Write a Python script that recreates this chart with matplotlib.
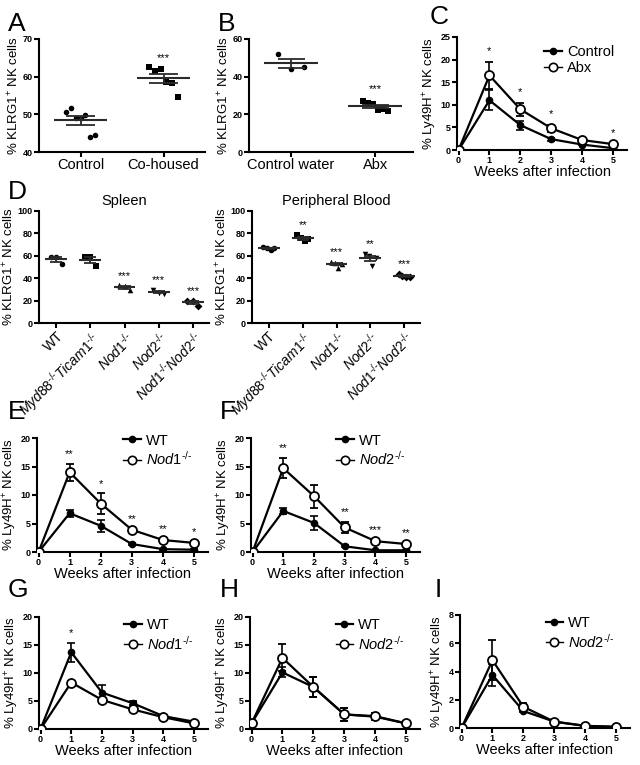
import numpy as np
import matplotlib
matplotlib.use('Agg')
import matplotlib.pyplot as plt
from matplotlib.lines import Line2D

plt.rcParams['font.family'] = ['Liberation Sans', 'DejaVu Sans']
plt.rcParams['mathtext.fontset'] = 'custom'
plt.rcParams['mathtext.rm'] = 'Liberation Sans'
plt.rcParams['mathtext.it'] = 'Liberation Sans:italic'
plt.rcParams['mathtext.bf'] = 'Liberation Sans:bold'

# ---- data ----
# A: co-housing
a_labels = ['Control', 'Co-housed']
a_control = [50.5, 51.7, 49.0, 49.1, 49.8, 44.0, 44.6]
a_cohoused = [62.5, 61.5, 62.0, 58.5, 58.3, 54.5]
a_stars = ['', '***']

# B: antibiotics
b_labels = ['Control water', 'Abx']
b_control = [52.0, 44.0, 45.0]
b_abx = [27.0, 26.0, 25.5, 22.5, 23.0, 22.0]
b_stars = ['', '***']

# D: KLRG1 by genotype
KO = r'^{\text{-/-}}'
d_labels = ['WT', r'$\mathit{Myd88}' + KO + r'\mathit{Ticam1}' + KO + '$',
            r'$\mathit{Nod1}' + KO + '$', r'$\mathit{Nod2}' + KO + '$',
            r'$\mathit{Nod1}' + KO + r'\mathit{Nod2}' + KO + '$']
d_spleen = [[59.0, 59.0, 52.5], [59.0, 59.0, 51.0], [33.5, 33.0, 29.5],
            [29.5, 27.0, 26.0], [20.0, 20.0, 15.5]]
d_spleen_stars = ['', '', '***', '***', '***']
d_blood = [[68.0, 67.0, 65.0, 67.0], [79.0, 76.0, 73.0, 75.0], [54.5, 54.0, 49.0, 53.0],
           [62.0, 60.0, 51.0, 58.0], [44.0, 42.0, 41.0, 41.0]]
d_blood_stars = ['', '**', '***', '**', '***']

weeks = [0, 1, 2, 3, 4, 5]

# C: control vs Abx
c_ctrl = [0.0, 11.0, 5.5, 2.4, 1.2, 0.4]
c_ctrl_sem = [0.0, 2.2, 1.0, 0.3, 0.2, 0.1]
c_abx = [0.0, 16.5, 9.0, 4.8, 2.2, 1.3]
c_abx_sem = [0.0, 3.0, 1.5, 0.8, 0.3, 0.2]
c_stars = ['', '*', '*', '*', '', '*']

# E: WT vs Nod1-/-
e_wt = [0.0, 6.8, 4.6, 1.4, 0.5, 0.4]
e_wt_sem = [0.0, 0.6, 1.1, 0.2, 0.1, 0.1]
e_ko = [0.0, 14.0, 8.5, 3.9, 2.1, 1.6]
e_ko_sem = [0.0, 1.5, 1.8, 0.2, 0.2, 0.2]
e_stars = ['', '**', '*', '**', '**', '*']

# F: WT vs Nod2-/-
f_wt = [0.0, 7.2, 5.1, 1.0, 0.3, 0.3]
f_wt_sem = [0.0, 0.6, 1.2, 0.2, 0.1, 0.1]
f_ko = [0.0, 14.7, 9.8, 4.3, 1.9, 1.4]
f_ko_sem = [0.0, 1.8, 2.0, 1.0, 0.2, 0.2]
f_stars = ['', '**', '', '**', '***', '**']

# G: WT vs Nod1-/-
g_wt = [0.0, 13.7, 6.5, 4.6, 2.3, 1.3]
g_wt_sem = [0.0, 1.7, 1.3, 0.4, 0.2, 0.2]
g_ko = [0.0, 8.3, 5.2, 3.5, 2.1, 1.0]
g_ko_sem = [0.0, 0.2, 0.2, 0.2, 0.2, 0.1]
g_stars = ['', '*', '', '', '', '']

# H: WT vs Nod2-/-
h_wt = [1.0, 10.1, 7.5, 2.6, 2.2, 1.0]
h_wt_sem = [0.0, 0.9, 1.7, 1.2, 0.6, 0.1]
h_ko = [1.0, 12.7, 7.5, 2.6, 2.3, 1.0]
h_ko_sem = [0.0, 2.4, 1.8, 1.2, 0.6, 0.1]

# I: WT vs Nod2-/-
i_wt = [0.0, 3.75, 1.2, 0.45, 0.15, 0.05]
i_wt_sem = [0.0, 0.75, 0.1, 0.05, 0.03, 0.02]
i_ko = [0.0, 4.8, 1.5, 0.45, 0.15, 0.1]
i_ko_sem = [0.0, 1.4, 0.3, 0.05, 0.03, 0.02]

W, H = 640, 765
fig = plt.figure(figsize=(W / 100, H / 100), dpi=100)
LBL = 9.5


def place(l, r, t, b):
    return fig.add_axes([l / W, 1 - b / H, (r - l) / W, (b - t) / H])


def style(ax, ylim, yticks):
    for s in ['top', 'right']:
        ax.spines[s].set_visible(False)
    for s in ['left', 'bottom']:
        ax.spines[s].set_linewidth(1.5)
    ax.set_ylim(*ylim)
    ax.set_yticks(yticks)
    ax.set_yticklabels([str(t) for t in yticks], fontsize=6.5, fontweight='bold')
    ax.tick_params(width=1.5, length=3.5, pad=1)


def dot_panel(ax, groups, markers, stars, half=0.3, cap=0.15, jit=0.12, ms=16, star_gap=3):
    for i, (pts, m) in enumerate(zip(groups, markers)):
        pts = np.asarray(pts)
        xs = i + np.linspace(-jit, jit, len(pts))
        ax.scatter(xs, pts, marker=m, s=ms, color='black', zorder=3, linewidths=0)
        mean = pts.mean()
        sem = pts.std(ddof=1) / np.sqrt(len(pts))
        ax.hlines(mean, i - half, i + half, color='#2a2a2a', lw=1.5, zorder=4)
        ax.vlines(i, mean - sem, mean + sem, color='#2a2a2a', lw=1.3, zorder=4)
        ax.hlines([mean - sem, mean + sem], i - cap, i + cap, color='#2a2a2a', lw=1.3, zorder=4)
        if stars[i]:
            ax.text(i, max(pts.max(), mean + sem) + star_gap, stars[i], ha='center',
                    va='bottom', fontsize=8)


def time_panel(ax, a, a_sem, b, b_sem, labels, ylim, yticks, stars, star_gap, leg_x, leg_y):
    ax.errorbar(weeks, a, yerr=a_sem, color='black', marker='o', ms=4.5, lw=1.6,
                elinewidth=1.2, capsize=3, capthick=1.2, zorder=3)
    ax.errorbar(weeks, b, yerr=b_sem, color='black', marker='o', ms=6.5, mfc='white',
                mew=1.3, lw=1.6, elinewidth=1.2, capsize=3, capthick=1.2, zorder=4)
    style(ax, ylim, yticks)
    ax.set_xlim(-0.05, 5.45)
    ax.set_xticks(weeks)
    ax.set_xticklabels([str(w) for w in weeks], fontsize=6.5, fontweight='bold')
    ax.set_xlabel('Weeks after infection', fontsize=10.5, labelpad=0)
    ax.set_ylabel(r'% Ly49H$^{+}$ NK cells', fontsize=LBL, labelpad=1)
    for w, s in zip(weeks, stars):
        if s:
            top = max(a[w] + a_sem[w], b[w] + b_sem[w])
            ax.text(w, top + star_gap, s, ha='center', va='bottom', fontsize=8)
    handles = [Line2D([], [], color='black', marker='o', ms=4.5, lw=1.6),
               Line2D([], [], color='black', marker='o', ms=6, mfc='white', mew=1.2, lw=1.0)]
    ax.legend(handles, labels, loc='upper left', bbox_to_anchor=(leg_x, leg_y), frameon=False,
              fontsize=10.5, handlelength=1.2, handletextpad=0.35, labelspacing=0.15,
              borderaxespad=0)


def letter(x, y, s):
    fig.text(x / W, 1 - y / H, s, fontsize=19, ha='left', va='top')


# A
ax = place(39, 205, 39, 152)
dot_panel(ax, [a_control, a_cohoused], ['o', 's'], a_stars, half=0.32, cap=0.18, jit=0.17,
          star_gap=1.2)
style(ax, (40, 70), [40, 50, 60, 70])
ax.set_xlim(-0.5, 1.5)
ax.set_xticks([0, 1])
ax.set_xticklabels(a_labels, fontsize=10.5)
ax.set_ylabel(r'% KLRG1$^{+}$ NK cells', fontsize=LBL, labelpad=1)

# B
ax = place(249, 413, 39, 152)
dot_panel(ax, [b_control, b_abx], ['o', 's'], b_stars, half=0.32, cap=0.16, jit=0.15,
          star_gap=4)
style(ax, (0, 60), [0, 20, 40, 60])
ax.set_xlim(-0.5, 1.45)
ax.set_xticks([0, 1])
ax.set_xticklabels(b_labels, fontsize=10.5)
ax.set_ylabel(r'% KLRG1$^{+}$ NK cells', fontsize=LBL, labelpad=1)

# C
ax = place(457, 627, 37, 150)
time_panel(ax, c_ctrl, c_ctrl_sem, c_abx, c_abx_sem, ['Control', 'Abx'], (0, 25),
           [0, 5, 10, 15, 20, 25], c_stars, 1.2, 0.48, 0.98)

# D spleen / blood
d_markers = ['o', 's', '^', 'v', 'D']
for (l, r), pts, st, title in [((39, 209), d_spleen, d_spleen_stars, 'Spleen'),
                                ((252, 420), d_blood, d_blood_stars, 'Peripheral Blood')]:
    ax = place(l, r, 211, 323)
    dot_panel(ax, pts, d_markers, st, half=0.32, cap=0.18, jit=0.16, ms=16, star_gap=4)
    style(ax, (0, 100), [0, 20, 40, 60, 80, 100])
    ax.set_xlim(-0.5, 4.47)
    ax.set_xticks(range(5))
    ax.set_xticklabels(d_labels, fontsize=10, rotation=45, ha='right', rotation_mode='anchor')
    ax.set_ylabel(r'% KLRG1$^{+}$ NK cells', fontsize=LBL, labelpad=1)
    ax.set_title(title, fontsize=10.5, pad=4)

# E-I
ax = place(37, 208, 438, 552)
time_panel(ax, e_wt, e_wt_sem, e_ko, e_ko_sem, ['WT', r'$\mathit{Nod1}' + KO + '$'], (0, 20),
           [0, 5, 10, 15, 20], e_stars, 0.8, 0.47, 1.09)
ax = place(251, 420, 438, 552)
time_panel(ax, f_wt, f_wt_sem, f_ko, f_ko_sem, ['WT', r'$\mathit{Nod2}' + KO + '$'], (0, 20),
           [0, 5, 10, 15, 20], f_stars, 0.8, 0.47, 1.09)
ax = place(39, 208, 617, 729)
time_panel(ax, g_wt, g_wt_sem, g_ko, g_ko_sem, ['WT', r'$\mathit{Nod1}' + KO + '$'], (0, 20),
           [0, 5, 10, 15, 20], g_stars, 0.8, 0.47, 1.04)
ax = place(250, 420, 617, 729)
time_panel(ax, h_wt, h_wt_sem, h_ko, h_ko_sem, ['WT', r'$\mathit{Nod2}' + KO + '$'], (0, 20),
           [0, 5, 10, 15, 20], [''] * 6, 0.8, 0.47, 1.04)
ax = place(460, 630, 615, 728)
time_panel(ax, i_wt, i_wt_sem, i_ko, i_ko_sem, ['WT', r'$\mathit{Nod2}' + KO + '$'], (0, 8),
           [0, 2, 4, 6, 8], [''] * 6, 0.3, 0.47, 1.04)

letter(8, 12, 'A')
letter(218, 12, 'B')
letter(430, 5, 'C')
letter(8, 180, 'D')
letter(8, 400, 'E')
letter(220, 400, 'F')
letter(8, 578, 'G')
letter(220, 578, 'H')
letter(435, 578, 'I')

fig.savefig('out.png', dpi=100)
